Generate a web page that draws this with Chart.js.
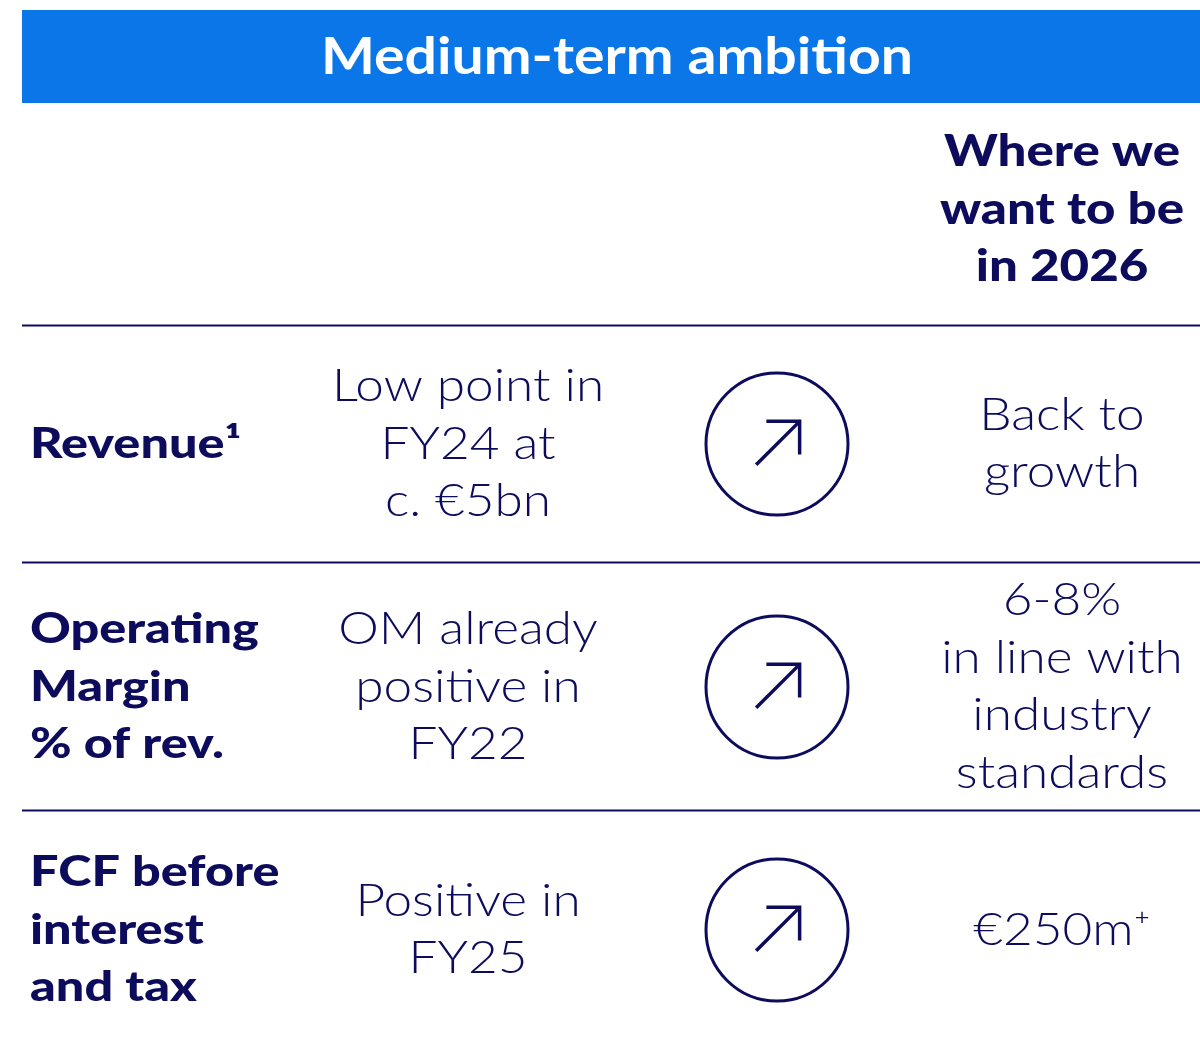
<!DOCTYPE html>
<html>
<head>
<meta charset="utf-8">
<script src="https://cdn.jsdelivr.net/npm/chart.js@4.4.1/dist/chart.umd.min.js"></script>
<style>
  html, body { margin: 0; padding: 0; background: #fff; }
  #wrap { width: 1200px; height: 1044px; }
</style>
</head>
<body>
<div id="wrap"><canvas id="chart" width="1200" height="1044"></canvas></div>
<script>
// データ
const title = 'Medium-term ambition';
const headerLines = ['Where we', 'want to be', 'in 2026'];
const metricLabels = [['Revenue¹'], ['Operating', 'Margin', '% of rev.'], ['FCF before', 'interest', 'and tax']];
const currentState = [['Low point in', 'FY24 at', 'c. €5bn'], ['OM already', 'positive in', 'FY22'], ['Positive in', 'FY25']];
const trendDirection = ['up', 'up', 'up'];
const target2026 = [['Back to', 'growth'], ['6-8%', 'in line with', 'industry', 'standards'], ['€250m⁺']];

// 見た目
const NAVY = '#0c0b5c';
const BLUE = '#0a76e8';
const FONT = 'Lato, "Open Sans", sans-serif';
const COL = { metric: 30, current: 468, trend: 777, target: 1062 };
const LINE_H = 57.5;
const SEP_NUDGE = [2, -4, 1];

// 横に引き伸ばして描く (元のフォントは幅が広い)
function stretchText(ctx, text, px, py, align, sx) {
    ctx.save();
    ctx.translate(px, py);
    ctx.scale(sx, 1);
    ctx.textAlign = align;
    ctx.fillText(text, 0, 0);
    ctx.restore();
}

const tablePlugin = {
    id: 'tableText',
    beforeDatasetsDraw(chart) {
        const { ctx, scales: { x, y } } = chart;
        ctx.save();
        ctx.textBaseline = 'middle';
        // タイトルバー
        ctx.fillStyle = BLUE;
        ctx.fillRect(22, 10, 1178, 93);
        ctx.fillStyle = '#fff';
        ctx.font = `bold 51px ${FONT}`;
        stretchText(ctx, title, 617, 58, 'center', 1.12);

        // ヘッダー
        ctx.fillStyle = NAVY;
        ctx.font = `900 44px ${FONT}`;
        headerLines.forEach((t, i) => {
            stretchText(ctx, t, x.getPixelForValue(COL.target), 152 + i * LINE_H, 'center', 1.16);
        });

        // 区切り線
        ctx.strokeStyle = NAVY;
        ctx.lineWidth = 2;
        metricLabels.forEach((_, i) => {
            const py = Math.round(y.getPixelForValue(i - 0.5)) + SEP_NUDGE[i] + 0.5;
            ctx.beginPath();
            ctx.moveTo(22, py);
            ctx.lineTo(1200, py);
            ctx.stroke();
        });

        const drawLines = (lines, px, cy, align, font, sx) => {
            ctx.font = font;
            const top = cy - (lines.length - 1) * LINE_H / 2;
            lines.forEach((t, j) => stretchText(ctx, t, px, top + j * LINE_H, align, sx));
        };

        metricLabels.forEach((lines, i) => {
            const cy = y.getPixelForValue(i);
            drawLines(lines, x.getPixelForValue(COL.metric), cy, 'left', `900 42px ${FONT}`, 1.2);
            drawLines(currentState[i], x.getPixelForValue(COL.current), cy, 'center', `300 45px ${FONT}`, 1.14);
            drawLines(target2026[i], x.getPixelForValue(COL.target), cy, 'center', `300 45px ${FONT}`, 1.14);
        });
        ctx.restore();
    },
    afterDatasetsDraw(chart) {
        // 矢印
        const { ctx } = chart;
        const meta = chart.getDatasetMeta(0);
        ctx.save();
        ctx.strokeStyle = NAVY;
        ctx.lineWidth = 3.5;
        meta.data.forEach((pt, i) => {
            const ang = trendDirection[i] === 'up' ? -Math.PI / 4 : Math.PI / 4;
            ctx.save();
            ctx.translate(pt.x, pt.y);
            ctx.rotate(ang);
            ctx.beginPath();
            ctx.moveTo(-29.5, 0);
            ctx.lineTo(32, 0);
            ctx.stroke();
            ctx.beginPath();
            ctx.moveTo(32 - 23.5, -23.5);
            ctx.lineTo(32, 0);
            ctx.lineTo(32 - 23.5, 23.5);
            ctx.lineJoin = 'miter';
            ctx.stroke();
            ctx.restore();
        });
        ctx.restore();
    }
};

new Chart(document.getElementById('chart'), {
    type: 'scatter',
    data: {
        datasets: [{
            data: trendDirection.map((d, i) => ({ x: COL.trend, y: i })),
            pointRadius: 71,
            pointHoverRadius: 71,
            pointBorderWidth: 3,
            pointHoverBorderWidth: 3,
            pointBackgroundColor: '#fff',
            pointBorderColor: NAVY,
            clip: false
        }]
    },
    options: {
        responsive: false,
        animation: false,
        events: [],
        layout: { padding: 0, autoPadding: false },
        plugins: { legend: { display: false }, tooltip: { enabled: false } },
        scales: {
            x: { type: 'linear', min: 0, max: 1200, display: false },
            y: { type: 'linear', reverse: true, min: -444 / 243, max: 600 / 243, display: false }
        }
    },
    plugins: [tablePlugin]
});
</script>
</body>
</html>
